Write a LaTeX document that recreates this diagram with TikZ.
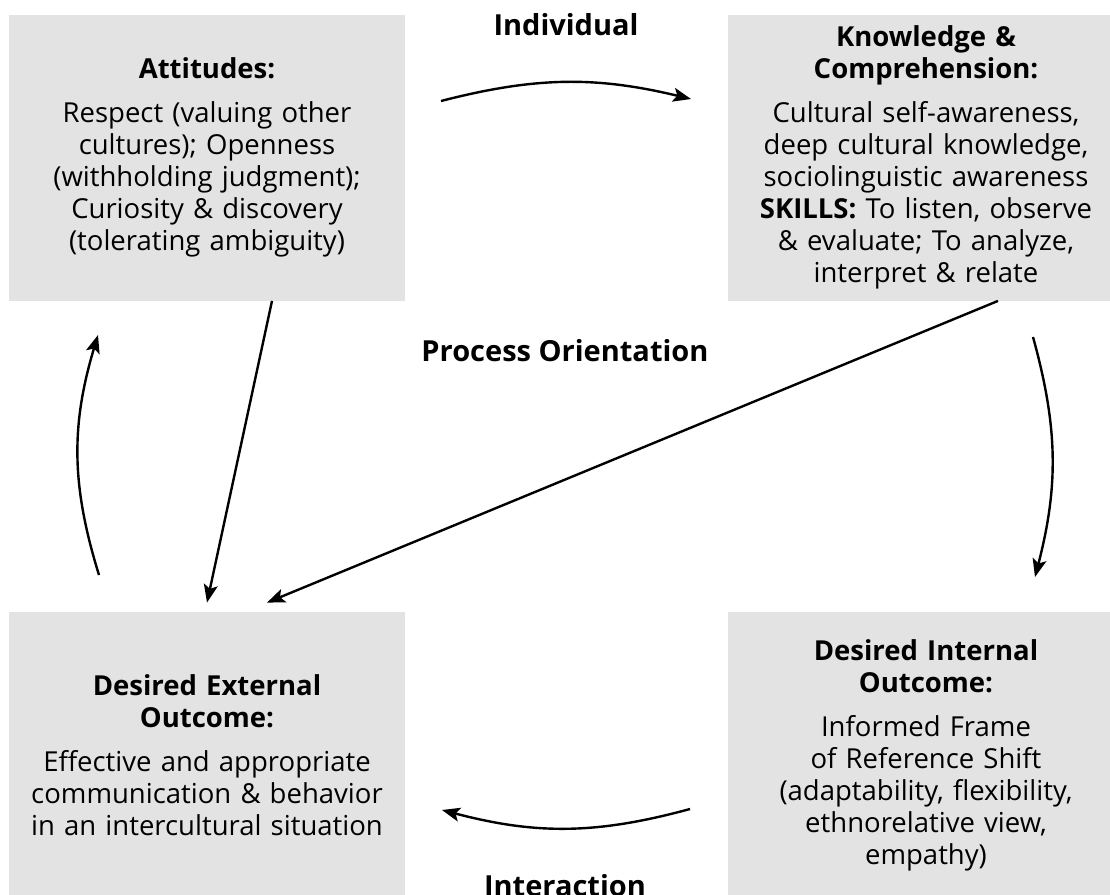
\documentclass[tikz,border=0pt]{standalone}
\usepackage{fontspec}
\setmainfont{Open Sans}
\usetikzlibrary{arrows.meta,calc}
\definecolor{boxgray}{RGB}{227,227,227}
\tikzset{
  box/.style={fill=boxgray, text width=190pt, minimum width=198pt, minimum height=143pt,
    inner sep=4pt, align=center, font=\fontsize{13.75pt}{16pt}\selectfont},
  heading/.style={font=\fontsize{14.5pt}{17pt}\selectfont\bfseries, anchor=base},
  flow/.style={line width=1.2pt, -{Stealth[length=9pt,width=7pt,inset=2pt]}}
}

\begin{document}
\begin{tikzpicture}[x=0.5pt,y=-0.5pt]
	\useasboundingbox (0,0) rectangle (1110,895);
	% boxes
	\node[box] (att) at (207,157.5) {\textbf{Attitudes:}\\[6pt]
		Respect (valuing other\\ cultures); Openness\\ (withholding judgment);\\
		Curiosity \& discovery\\ (tolerating ambiguity)};
	\node[box] (know) at (926,157.5) {\textbf{Knowledge \&}\\ \textbf{Comprehension:}\\[6pt]
		Cultural self-awareness,\\ deep cultural knowledge,\\ sociolinguistic awareness\\
		\textbf{SKILLS:} To listen, observe\\ \& evaluate; To analyze,\\ interpret \& relate};
	\node[box] (ext) at (207,755) {\textbf{Desired External}\\ \textbf{Outcome:}\\[6pt]
		Effective and appropriate\\ communication \& behavior\\ in an intercultural situation};
	\node[box] (int) at (926,755) {\textbf{Desired Internal}\\ \textbf{Outcome:}\\[6pt]
		Informed Frame\\ of Reference Shift\\ (adaptability, flexibility,\\
		ethnorelative view,\\ empathy)};
	% labels
	\node[heading] (indiv) at (566,35) {Individual};
	\node[heading] (proc) at (565,361) {Process Orientation};
	\node[heading] (inter) at (565,896) {Interaction};
	% arrow ends
	\coordinate (i1) at (441,101);
	\coordinate (i2) at (691,99);
	\coordinate (k1) at (1033,337);
	\coordinate (k2) at (1035,577);
	\coordinate (n1) at (690,809);
	\coordinate (n2) at (442,810);
	\coordinate (e1) at (99,575);
	\coordinate (e2) at (98,335);
	% arrows
	\draw[flow] (i1) to[bend left=14] (i2);
	\draw[flow] (k1) to[bend left=15] (k2);
	\draw[flow] (n1) to[bend left=15] (n2);
	\draw[flow] (e1) to[bend left=17] (e2);
	\draw[flow] ($(att.south)+(65,0)$) -- ($(ext.north)+(0,-9)$);
	\draw[flow] ($(know.south)+(72,0)$) -- ($(ext.north)+(60,-9)$);
\end{tikzpicture}
\end{document}
